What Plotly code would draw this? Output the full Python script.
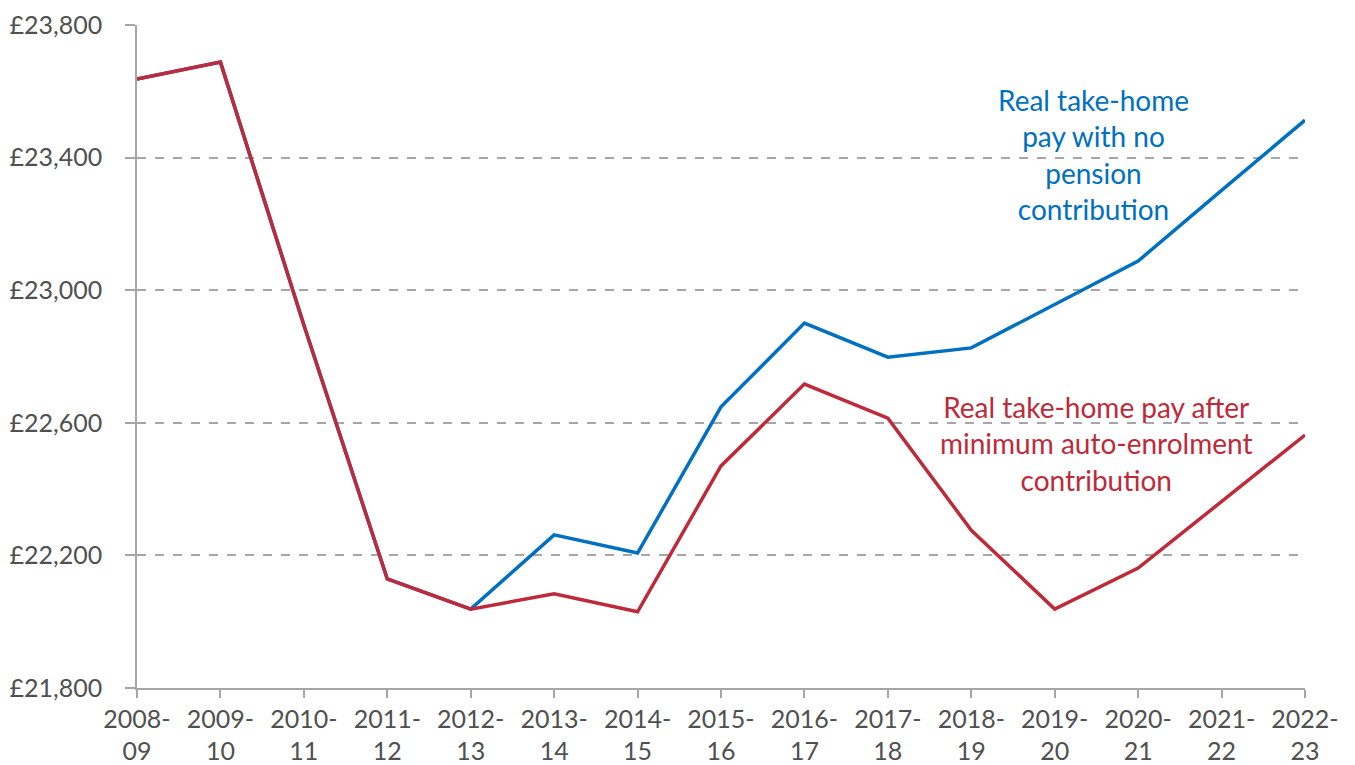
import plotly.graph_objects as go

years = ["2008-09", "2009-10", "2010-11", "2011-12", "2012-13", "2013-14", "2014-15",
         "2015-16", "2016-17", "2017-18", "2018-19", "2019-20", "2020-21", "2021-22", "2022-23"]
tick_labels = [y.replace("-", "-<br>") for y in years]

y_ticks = [21800, 22200, 22600, 23000, 23400, 23800]
y_tick_labels = ["£21,800", "£22,200", "£22,600", "£23,000", "£23,400", "£23,800"]

no_pension = [23637, 23688, 22895, 22129, 22038, 22262, 22207,
              22648, 22901, 22798, 22826, 22957, 23088, 23301, 23513]
after_ae = [23637, 23688, 22895, 22129, 22038, 22084, 22030,
            22470, 22717, 22614, 22276, 22038, 22162, 22364, 22563]

BLUE = "#0070C0"
RED = "#BE2A3A"
FONT = "Lato"

xs = list(range(len(years)))

fig = go.Figure()
fig.add_trace(go.Scatter(x=xs, y=no_pension, mode="lines",
                         line=dict(color=BLUE, width=3.5), name="no pension"))
fig.add_trace(go.Scatter(x=xs, y=after_ae, mode="lines",
                         line=dict(color=RED, width=3.5), name="after AE"))

fig.add_annotation(x=11.47, y=23408, xref="x", yref="y", showarrow=False,
                   text="Real take-home<br>pay with no<br>pension<br>contribution",
                   font=dict(family=FONT, size=28, color=BLUE), align="center")
fig.add_annotation(x=11.5, y=22539, xref="x", yref="y", showarrow=False,
                   text="Real take-home pay after<br>minimum auto-enrolment<br>contribution",
                   font=dict(family=FONT, size=28, color=RED), align="center")

fig.update_layout(
    width=1355, height=765,
    margin=dict(l=129, r=58, t=17, b=85),
    paper_bgcolor="white", plot_bgcolor="white",
    showlegend=False,
    font=dict(family=FONT, color="#505050", size=25),
)
fig.update_xaxes(
    range=[0, 14], tickmode="array", tickvals=xs, ticktext=tick_labels,
    showgrid=False, showline=True, linecolor="#A6A6A6", linewidth=1.5,
    ticks="outside", ticklen=8, tickcolor="#A6A6A6", tickwidth=1.5,
    tickfont=dict(family=FONT, size=25, color="#505050"), zeroline=False,
    automargin=False,
)
fig.update_yaxes(
    range=[21800, 23800], tickmode="array", tickvals=y_ticks, ticktext=y_tick_labels,
    showgrid=True, gridcolor="#A6A6A6", griddash="dash", gridwidth=1.5,
    showline=True, linecolor="#A6A6A6", linewidth=1.5,
    ticks="outside", ticklen=10, tickcolor="#A6A6A6", tickwidth=1.5,
    ticklabelstandoff=18,
    tickfont=dict(family=FONT, size=25, color="#505050"), zeroline=False,
    automargin=False,
)

fig.write_html("out.html")
